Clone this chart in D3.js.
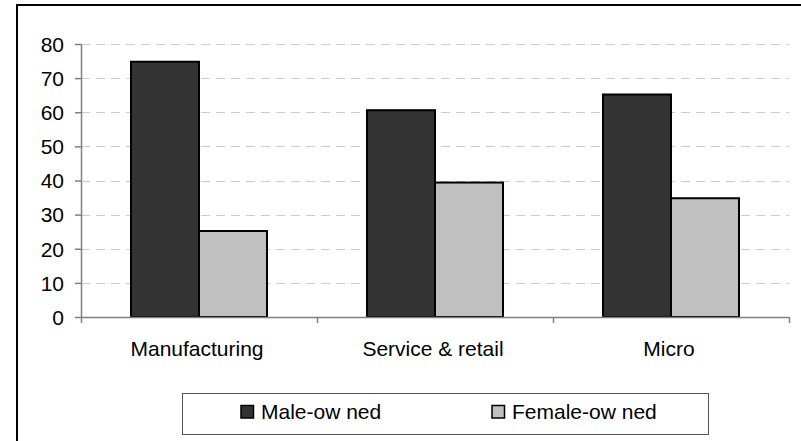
<!DOCTYPE html>
<html>
<head>
<meta charset="utf-8">
<script src="https://cdn.jsdelivr.net/npm/d3@7"></script>
<style>
  html, body { margin: 0; padding: 0; background: #fff; }
  svg { display: block; }
  text { font-family: "Liberation Sans", Arial, sans-serif; fill: #000; }
</style>
</head>
<body>
<svg id="chart" width="801" height="441"></svg>
<script>
const categories = ["Manufacturing", "Service & retail", "Micro"];
const seriesNames = ["Male-ow ned", "Female-ow ned"];
const maleValues = [74.8, 60.6, 65.2];
const femaleValues = [25.2, 39.4, 34.8];
const yTicks = [0, 10, 20, 30, 40, 50, 60, 70, 80];
const seriesColors = ["#333333", "#c0c0c0"];

const rows = categories.map((c, i) => ({ cat: c, values: [maleValues[i], femaleValues[i]] }));

const svg = d3.select("#chart");
const plot = { left: 81, right: 789, top: 44, bottom: 317 };

// outer frame
svg.append("rect")
  .attr("x", 17).attr("y", 5)
  .attr("width", 820).attr("height", 460)
  .attr("fill", "#fff").attr("stroke", "#000").attr("stroke-width", 2);

const y = d3.scaleLinear().domain([0, 80]).range([plot.bottom, plot.top]);
const x0 = d3.scaleBand().domain(categories).range([plot.left, plot.right]).paddingInner(0).paddingOuter(0);
const x1 = d3.scaleBand().domain(seriesNames).range([0, x0.bandwidth()]).paddingInner(0).paddingOuter(0.735);

// gridlines
svg.append("g")
  .selectAll("line")
  .data(yTicks.filter(t => t > 0))
  .join("line")
  .attr("x1", plot.left).attr("x2", plot.right)
  .attr("y1", d => Math.round(y(d)) + 0.5).attr("y2", d => Math.round(y(d)) + 0.5)
  .attr("stroke", "#cccccc").attr("stroke-width", 1)
  .attr("stroke-dasharray", "9,6");

// bars
const groups = svg.append("g")
  .selectAll("g")
  .data(rows)
  .join("g")
  .attr("transform", d => `translate(${x0(d.cat)},0)`);

groups.selectAll("rect")
  .data(d => d.values.map((v, i) => ({ name: seriesNames[i], v, i })))
  .join("rect")
  .attr("x", d => x1(d.name))
  .attr("y", d => y(d.v))
  .attr("width", x1.bandwidth())
  .attr("height", d => y(0) - y(d.v))
  .attr("fill", d => seriesColors[d.i])
  .attr("stroke", "#000").attr("stroke-width", 2);

// y axis
const yAxis = d3.axisLeft(y).tickValues(yTicks).tickSize(6).tickPadding(11).tickFormat(d3.format("d"));
const gy = svg.append("g").attr("transform", `translate(${plot.left},0)`).call(yAxis);
gy.select(".domain").attr("stroke", "#808080").attr("stroke-width", 1.5).attr("d", `M0.5,${plot.top}V${plot.bottom}`);
gy.selectAll(".tick line").attr("stroke", "#808080").attr("stroke-width", 1.5);
gy.selectAll(".tick text")
  .attr("font-size", 21).attr("fill", "#000")
  .attr("font-family", "Liberation Sans, Arial, sans-serif")
  .attr("dy", "0.35em");

// x axis
const gx = svg.append("g").attr("transform", `translate(0,${plot.bottom})`);
gx.append("line")
  .attr("x1", plot.left).attr("x2", plot.right)
  .attr("y1", 0.5).attr("y2", 0.5)
  .attr("stroke", "#808080").attr("stroke-width", 1.5);
const boundaries = categories.map(c => x0(c)).concat([x0(categories[categories.length - 1]) + x0.bandwidth()]);
gx.selectAll("line.tk")
  .data(boundaries)
  .join("line")
  .attr("class", "tk")
  .attr("x1", d => d + 0.5).attr("x2", d => d + 0.5)
  .attr("y1", 0).attr("y2", 6)
  .attr("stroke", "#808080").attr("stroke-width", 1.5);
gx.selectAll("text")
  .data(categories)
  .join("text")
  .attr("x", d => x0(d) + x0.bandwidth() / 2 - 2)
  .attr("y", 38.5)
  .attr("text-anchor", "middle")
  .attr("font-size", 21)
  .text(d => d);

// legend
const lg = svg.append("g");
lg.append("rect")
  .attr("x", 182.5).attr("y", 393.5)
  .attr("width", 526).attr("height", 41)
  .attr("fill", "#fff").attr("stroke", "#555").attr("stroke-width", 1);
const legendX = [241, 492];
const items = lg.selectAll("g.item")
  .data(seriesNames)
  .join("g")
  .attr("class", "item")
  .attr("transform", (d, i) => `translate(${legendX[i]},0)`);
items.append("rect")
  .attr("x", 0).attr("y", 405.5)
  .attr("width", 12.5).attr("height", 12.5)
  .attr("fill", (d, i) => seriesColors[i])
  .attr("stroke", "#000").attr("stroke-width", 1.5);
items.append("text")
  .attr("x", 20).attr("y", 418.5)
  .attr("font-size", 21)
  .text(d => d);
</script>
</body>
</html>
